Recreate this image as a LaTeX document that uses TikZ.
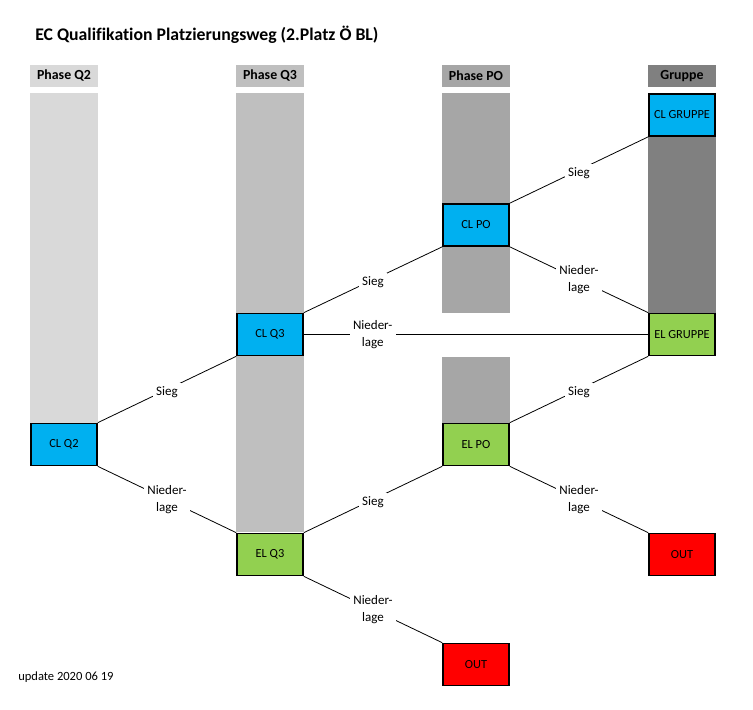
\documentclass[tikz,border=0pt]{standalone}
\usepackage{fontspec}
\setmainfont{Carlito}[Ligatures=NoCommon]
\definecolor{cq2}{HTML}{D9D9D9}
\definecolor{cq3}{HTML}{BFBFBF}
\definecolor{cpo}{HTML}{A6A6A6}
\definecolor{cgr}{HTML}{808080}
\definecolor{clblue}{HTML}{00B0F0}
\definecolor{elgreen}{HTML}{92D050}
\definecolor{outred}{HTML}{FF0000}
\begin{document}
\begin{tikzpicture}[x=0.75pt,y=-0.75pt,
  box/.style={draw=black,line width=1.3pt,minimum width=49.5pt,minimum height=31.5pt,inner sep=0pt,
    font=\fontsize{9.3}{10}\selectfont},
  clbox/.style={box,fill=clblue},
  elbox/.style={box,fill=elgreen},
  outbox/.style={box,fill=outred},
  hdr/.style={minimum width=51pt,minimum height=16.5pt,inner sep=0pt,font=\bfseries\fontsize{10.4}{12}\selectfont},
  lbl/.style={fill=white,inner sep=2.5pt,align=center,font=\fontsize{9.75}{12.75}\selectfont},
  conn/.style={draw=black,line width=0.6pt}]
\useasboundingbox (0,0) rectangle (753,710);
% title
\node[anchor=west,inner sep=0pt,font=\bfseries\fontsize{13.3}{15}\selectfont] (title) at (35,35) {EC Qualifikation Platzierungsweg (2.Platz Ö BL)};
% headers
\node[hdr,fill=cq2] (hq2) at (64,76) {Phase Q2};
\node[hdr,fill=cq3] (hq3) at (270,76) {Phase Q3};
\node[hdr,fill=cpo] (hpo) at (476,76) {Phase PO};
\node[hdr,fill=cgr] (hgr) at (682,76) {Gruppe};
% bars
\fill[cq2] (30,93) rectangle (98,423);
\fill[cq3] (236,93) rectangle (304,532);
\fill[cpo] (442,93) rectangle (510,313);
\fill[cpo] (442,357) rectangle (510,423);
\fill[cgr] (648,93) rectangle (716,313);
% boxes
\node[clbox] (clq2) at (64,444.5) {CL Q2};
\node[clbox] (clq3) at (270,334.5) {CL Q3};
\node[elbox] (elq3) at (270,554.5) {EL Q3};
\node[clbox] (clpo) at (476,225) {CL PO};
\node[elbox] (elpo) at (476,444.5) {EL PO};
\node[outbox] (outa) at (476,664.5) {OUT};
\node[clbox] (clgr) at (682,115) {CL GRUPPE};
\node[elbox] (elgr) at (682,334.5) {EL GRUPPE};
\node[outbox] (outb) at (682,554.5) {OUT};
% connectors
\draw[conn] (clq2.north east) -- node[lbl,yshift=-2pt] {Sieg} (clq3.south west);
\draw[conn] (clq2.south east) -- node[lbl] {Nieder-\\lage} (elq3.north west);
\draw[conn] (clq3.north east) -- node[lbl,yshift=-2pt] {Sieg} (clpo.south west);
\draw[conn] (clq3.east) -- node[lbl,pos=0.2] {Nieder-\\lage} (elgr.west);
\draw[conn] (elq3.north east) -- node[lbl,yshift=-2pt] {Sieg} (elpo.south west);
\draw[conn] (elq3.south east) -- node[lbl] {Nieder-\\lage} (outa.north west);
\draw[conn] (clpo.north east) -- node[lbl,yshift=-2pt] {Sieg} (clgr.south west);
\draw[conn] (clpo.south east) -- node[lbl] {Nieder-\\lage} (elgr.north west);
\draw[conn] (elpo.north east) -- node[lbl,yshift=-2pt] {Sieg} (elgr.south west);
\draw[conn] (elpo.south east) -- node[lbl] {Nieder-\\lage} (outb.north west);
% footer
\node[anchor=west,inner sep=0pt,font=\fontsize{9.4}{11}\selectfont] (upd) at (18,677) {update 2020 06 19};
\end{tikzpicture}
\end{document}
